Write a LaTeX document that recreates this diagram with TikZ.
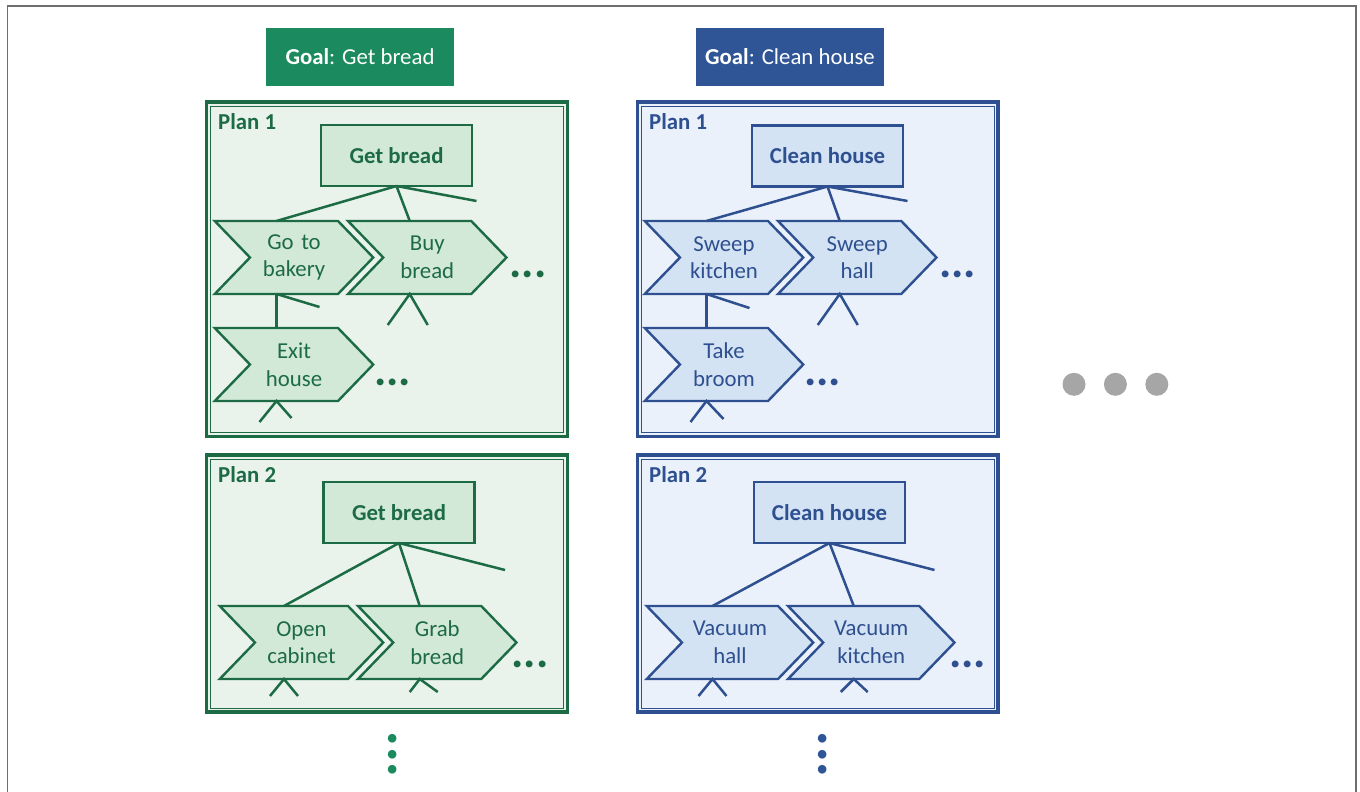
\documentclass[tikz,border=0pt]{standalone}
\usepackage{fontspec}
\setmainfont{Carlito}
\usetikzlibrary{positioning,calc,shapes.symbols}
\definecolor{gdark}{HTML}{1D6B45}
\definecolor{ggoal}{HTML}{1B8A5E}
\definecolor{gpale}{HTML}{E9F3EC}
\definecolor{glight}{HTML}{D3E9D8}
\definecolor{bdark}{HTML}{2E5090}
\definecolor{bgoal}{HTML}{2F5597}
\definecolor{bpale}{HTML}{EBF1FA}
\definecolor{blight}{HTML}{D4E3F4}
\definecolor{mgrey}{HTML}{A6A6A6}
\definecolor{edgegrey}{HTML}{6E6E6E}
\tikzset{
  goal/.style   = {fill=#1goal, text=white, minimum width=188pt, minimum height=58pt, inner sep=0pt},
  plan/.style   = {draw=#1dark, fill=#1pale, line width=3.2pt, inner sep=0pt, outer sep=0pt},
  planin/.style = {draw=#1dark, line width=0.9pt},
  plabel/.style = {text=#1dark, font=\bfseries, anchor=west, inner sep=0pt},
  root/.style   = {draw=#1dark, fill=#1light, text=#1dark, line width=2.4pt, font=\bfseries,
                   minimum width=151pt, minimum height=61pt, inner sep=0pt, outer sep=0pt},
  chev/.style   = {shape=signal, signal from=west, signal to=east, signal pointer angle=92,
                   draw=#1dark, fill=#1light, text=#1dark, line width=2.4pt, minimum height=73pt,
                   text width=88pt, inner xsep=0pt, outer sep=0pt, align=center},
  wire/.style   = {draw=#1dark, line width=2.5pt},
  more/.style   = {text=#1dark, font=\fontsize{46}{46}\selectfont\bfseries, inner sep=0pt},
  vmore/.style  = {text=#1goal, font=\fontsize{58}{58}\selectfont\bfseries, inner sep=0pt, rotate=90},
  mdot/.style   = {circle, fill=mgrey, minimum size=23pt, inner sep=0pt},
  node distance = 10pt,
}
\begin{document}
\fontsize{22.8}{27.5}\selectfont
\begin{tikzpicture}[x=1pt, y=-1pt]
  \useasboundingbox (0,0) rectangle (1360,792);
  \draw[edgegrey, line width=1.6pt] (7.5,792) -- (7.5,6) -- (1356,6) -- (1356,792);

  % goals
  \node[goal=g] (goalg) at (360,57) {\textbf{Goal}: Get bread};
  \node[goal=b] (goalb) at (790,57) {\textbf{Goal}: Clean house};

  % plan frames
  \node[plan=g, minimum width=361pt, minimum height=334.5pt] (gplan1) at (387,269.25) {};
  \node[plan=g, minimum width=361pt, minimum height=257pt] (gplan2) at (387,583.5) {};
  \node[plan=b, minimum width=360.5pt, minimum height=334.5pt] (bplan1) at (817.75,269.25) {};
  \node[plan=b, minimum width=360.5pt, minimum height=257pt] (bplan2) at (817.75,583.5) {};
  \draw[planin=g] ([shift={(4,4)}]gplan1.north west) rectangle ([shift={(-4,-4)}]gplan1.south east);
  \draw[planin=g] ([shift={(4,4)}]gplan2.north west) rectangle ([shift={(-4,-4)}]gplan2.south east);
  \draw[planin=b] ([shift={(4,4)}]bplan1.north west) rectangle ([shift={(-4,-4)}]bplan1.south east);
  \draw[planin=b] ([shift={(4,4)}]bplan2.north west) rectangle ([shift={(-4,-4)}]bplan2.south east);
  \node[plabel=g] (glab1) at ([shift={(11.5,19.5)}]gplan1.north west) {Plan 1};
  \node[plabel=g] (glab2) at ([shift={(11.5,19.5)}]gplan2.north west) {Plan 2};
  \node[plabel=b] (blab1) at ([shift={(11.5,19.5)}]bplan1.north west) {Plan 1};
  \node[plabel=b] (blab2) at ([shift={(11.5,19.5)}]bplan2.north west) {Plan 2};

  % get bread, plan 1
  \node[root=g] (groot1) at (396.5,155.5) {Get bread};
  \node[chev=g] (gobak) at (294,257.5) {Go to\\bakery};
  \node[chev=g, right=of gobak] (buybr) {Buy\\bread};
  \node[chev=g, below=34pt of gobak] (exith) {Exit\\house};
  \draw[wire=g] (groot1.south) -- ([xshift=-17.5pt]gobak.north);
  \draw[wire=g] (groot1.south) -- ([xshift=-17.5pt]buybr.north);
  \draw[wire=g] (groot1.south) -- ++(80,15);
  \draw[wire=g] ([xshift=-17.5pt]gobak.south) -- ([xshift=-17.5pt]exith.north);
  \draw[wire=g] ([xshift=-17.5pt]gobak.south) -- ++(43,13);
  \draw[wire=g] ([xshift=-17.5pt]buybr.south) +(-22,31) -- +(0,0) -- +(18,31);
  \draw[wire=g] ([xshift=-17.5pt]exith.south) +(-17,21) -- +(0,0) -- +(15,17);
  \node[more=g] (buymore) at (528,274) {...};
  \node[more=g] (exitmore) at (392.5,382.5) {...};

  % get bread, plan 2
  \node[root=g] (groot2) at (399,512.5) {Get bread};
  \node[chev=g, text width=93pt] (opcab) at (301.5,642.5) {Open\\cabinet};
  \node[chev=g, right=of opcab] (grabbr) {Grab\\bread};
  \draw[wire=g] (groot2.south) -- ([xshift=-17.5pt]opcab.north);
  \draw[wire=g] (groot2.south) -- ([xshift=-17.5pt]grabbr.north);
  \draw[wire=g] (groot2.south) -- ++(106,27);
  \draw[wire=g] ([xshift=-17.5pt]opcab.south) +(-14,17) -- +(0,0) -- +(14,17);
  \draw[wire=g] ([xshift=-17.5pt]grabbr.south) +(-10,13) -- +(0,0) -- +(18,13);
  \node[more=g] (grabmore) at (530,664) {...};
  \node[vmore=g] (gdown) at (392.7,754.3) {...};

  % clean house, plan 1
  \node[root=b] (broot1) at (827.5,156) {Clean house};
  \node[chev=b] (swkit) at (724,257.5) {Sweep\\kitchen};
  \node[chev=b, right=of swkit] (swhall) {Sweep\\hall};
  \node[chev=b, below=34pt of swkit] (takebr) {Take\\broom};
  \draw[wire=b] (broot1.south) -- ([xshift=-17.5pt]swkit.north);
  \draw[wire=b] (broot1.south) -- ([xshift=-17.5pt]swhall.north);
  \draw[wire=b] (broot1.south) -- ++(80,14.5);
  \draw[wire=b] ([xshift=-17.5pt]swkit.south) -- ([xshift=-17.5pt]takebr.north);
  \draw[wire=b] ([xshift=-17.5pt]swkit.south) -- ++(43,14);
  \draw[wire=b] ([xshift=-17.5pt]swhall.south) +(-22,31) -- +(0,0) -- +(18,31);
  \draw[wire=b] ([xshift=-17.5pt]takebr.south) +(-16,21) -- +(0,0) -- +(17,18);
  \node[more=b] (hallmore) at (957.5,274) {...};
  \node[more=b] (broommore) at (822.5,382.5) {...};

  % clean house, plan 2
  \node[root=b] (broot2) at (829.5,512.5) {Clean house};
  \node[chev=b, text width=96pt] (vachall) at (730,642.5) {Vacuum\\hall};
  \node[chev=b, text width=96pt, right=of vachall] (vackit) {Vacuum\\kitchen};
  \draw[wire=b] (broot2.south) -- ([xshift=-17.5pt]vachall.north);
  \draw[wire=b] (broot2.south) -- ([xshift=-17.5pt]vackit.north);
  \draw[wire=b] (broot2.south) -- ++(105,27);
  \draw[wire=b] ([xshift=-17.5pt]vachall.south) +(-14,17) -- +(0,0) -- +(14,17);
  \draw[wire=b] ([xshift=-17.5pt]vackit.south) +(-13,13) -- +(0,0) -- +(14,13);
  \node[more=b] (vacmore) at (967.5,664) {...};
  \node[vmore=b] (bdown) at (822.7,754.3) {...};

  % more goals
  \node[mdot] (mdot1) at (1074,384.3) {};
  \node[mdot, right=18pt of mdot1] (mdot2) {};
  \node[mdot, right=18pt of mdot2] (mdot3) {};
\end{tikzpicture}
\end{document}
